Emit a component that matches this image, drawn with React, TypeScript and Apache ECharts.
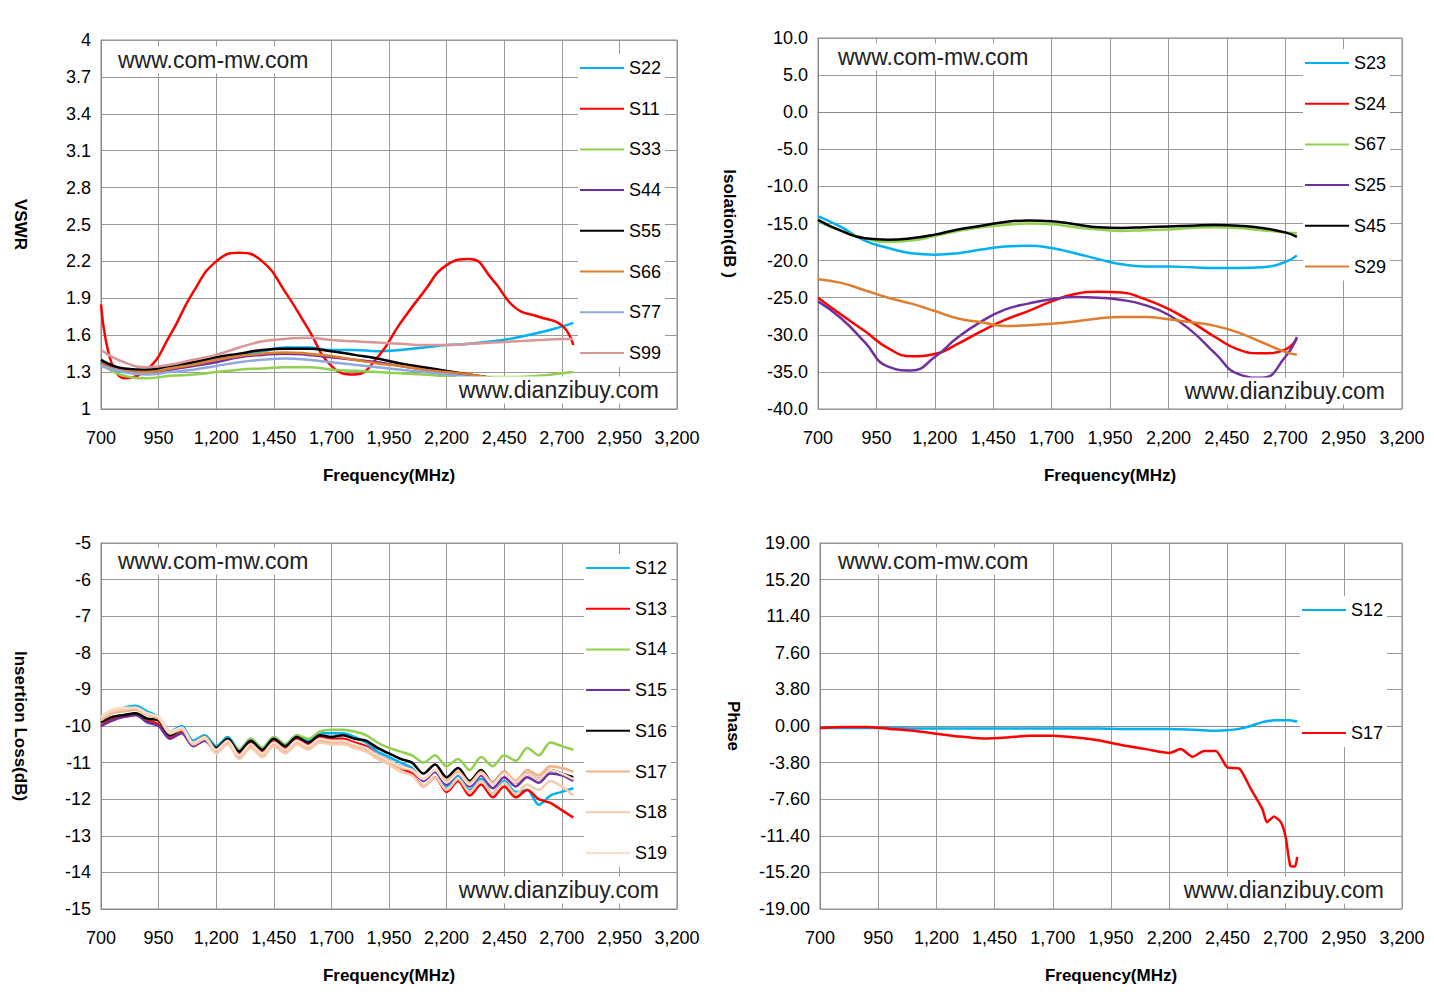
import React, { useEffect, useRef } from "react";
import * as echarts from "echarts";

// frequency points (MHz)
const freqCoarse = [700, 800, 900, 1000, 1100, 1200, 1300, 1400, 1500, 1600, 1700, 1800, 1900, 2000, 2100, 2200, 2300, 2400, 2500, 2600, 2700, 2750];
const freqFine = [700, 750, 800, 850, 900, 950, 1000, 1050, 1100, 1150, 1200, 1250, 1300, 1350, 1400, 1450, 1500, 1550, 1600, 1650, 1700, 1750, 1800, 1850, 1900, 1950, 2000, 2050, 2100, 2150, 2200, 2250, 2300, 2350, 2400, 2450, 2500, 2550, 2600, 2650, 2700, 2750];
const freqPhase = [700, 800, 900, 1000, 1100, 1200, 1300, 1400, 1500, 1600, 1700, 1800, 1900, 2000, 2100, 2200, 2250, 2300, 2350, 2400, 2450, 2500, 2550, 2600, 2620, 2650, 2680, 2700, 2720, 2740, 2750];

// VSWR
const vS22 = [1.38, 1.3, 1.3, 1.33, 1.37, 1.4, 1.44, 1.47, 1.5, 1.5, 1.48, 1.48, 1.47, 1.48, 1.5, 1.52, 1.53, 1.55, 1.58, 1.62, 1.67, 1.7];
const vS11 = [1.85, 1.25, 1.32, 1.6, 1.95, 2.2, 2.27, 2.2, 1.95, 1.65, 1.35, 1.28, 1.42, 1.7, 1.95, 2.17, 2.22, 2.05, 1.82, 1.75, 1.68, 1.52];
const vS33 = [1.37, 1.27, 1.25, 1.27, 1.28, 1.3, 1.32, 1.33, 1.34, 1.34, 1.32, 1.31, 1.3, 1.29, 1.28, 1.27, 1.27, 1.26, 1.26, 1.27, 1.29, 1.3];
const vS44 = [1.38, 1.32, 1.3, 1.32, 1.35, 1.38, 1.42, 1.44, 1.45, 1.44, 1.42, 1.4, 1.38, 1.35, 1.32, 1.3, 1.27, 1.24, 1.2, 1.17, 1.15, 1.14];
const vS55 = [1.4, 1.33, 1.32, 1.35, 1.38, 1.42, 1.45, 1.48, 1.49, 1.49, 1.47, 1.44, 1.41, 1.37, 1.34, 1.31, 1.28, 1.25, 1.21, 1.18, 1.15, 1.14];
const vS66 = [1.37, 1.31, 1.3, 1.33, 1.36, 1.4, 1.43, 1.45, 1.46, 1.45, 1.43, 1.4, 1.37, 1.35, 1.32, 1.3, 1.28, 1.25, 1.21, 1.18, 1.15, 1.13];
const vS77 = [1.35, 1.3, 1.28, 1.3, 1.32, 1.35, 1.38, 1.4, 1.41, 1.4, 1.38, 1.36, 1.34, 1.32, 1.3, 1.28, 1.26, 1.24, 1.2, 1.17, 1.15, 1.14];
const vS99 = [1.48, 1.38, 1.34, 1.36, 1.4, 1.44, 1.5, 1.55, 1.57, 1.58, 1.56, 1.55, 1.54, 1.53, 1.52, 1.52, 1.53, 1.54, 1.55, 1.56, 1.57, 1.57];

// Isolation
const iS23 = [-14, -15.5, -17.3, -18.3, -19, -19.2, -19, -18.5, -18.1, -18, -18.3, -19, -19.8, -20.5, -20.8, -20.8, -20.9, -21, -21, -20.9, -20.2, -19.3];
const iS24 = [-25, -27.3, -29.5, -31.8, -32.9, -32.6, -31.2, -29.5, -28, -26.8, -25.5, -24.5, -24.2, -24.3, -25.2, -26.5, -28.3, -30.3, -32, -32.5, -32, -30.5];
const iS67 = [-14.7, -16, -17, -17.5, -17.3, -16.7, -16, -15.5, -15.2, -15, -15.1, -15.5, -15.8, -16, -15.9, -15.8, -15.6, -15.5, -15.6, -15.9, -16.2, -16.3];
const iS25 = [-25.5, -27.8, -31, -34.3, -34.8, -33, -30.3, -28.2, -26.6, -25.8, -25.2, -24.9, -25, -25.3, -26, -27.3, -29.5, -32.5, -35.3, -35.8, -33, -30.3];
const iS45 = [-14.5, -16, -17, -17.2, -17, -16.5, -15.8, -15.3, -14.8, -14.6, -14.7, -15.1, -15.5, -15.6, -15.5, -15.4, -15.3, -15.2, -15.3, -15.6, -16.2, -16.8];
const iS29 = [-22.5, -23, -24, -25, -25.8, -26.8, -27.8, -28.3, -28.8, -28.7, -28.5, -28.2, -27.8, -27.6, -27.6, -27.9, -28.3, -28.8, -29.7, -31, -32.3, -32.7];

// Insertion loss
const lS12 = [-9.8, -9.6, -9.5, -9.45, -9.6, -9.75, -10.15, -10.0, -10.4, -10.25, -10.55, -10.3, -10.65, -10.35, -10.6, -10.3, -10.5, -10.25, -10.4, -10.2, -10.2, -10.2, -10.3, -10.45, -10.7, -10.85, -11.0, -11.15, -11.5, -11.25, -11.65, -11.35, -11.75, -11.45, -11.85, -11.5, -11.8, -11.75, -12.15, -11.9, -11.8, -11.7];
const lS13 = [-10.0, -9.8, -9.75, -9.7, -9.85, -9.95, -10.3, -10.15, -10.5, -10.35, -10.65, -10.4, -10.75, -10.45, -10.7, -10.4, -10.6, -10.35, -10.5, -10.3, -10.35, -10.35, -10.45, -10.55, -10.8, -10.95, -11.15, -11.3, -11.65, -11.4, -11.8, -11.5, -11.9, -11.6, -11.95, -11.65, -11.95, -11.75, -12.0, -12.1, -12.3, -12.5];
const lS14 = [-9.9, -9.75, -9.7, -9.65, -9.8, -9.85, -10.25, -10.1, -10.45, -10.3, -10.6, -10.35, -10.65, -10.35, -10.6, -10.3, -10.5, -10.25, -10.35, -10.15, -10.1, -10.1, -10.15, -10.25, -10.45, -10.6, -10.7, -10.8, -11.0, -10.8, -11.1, -10.9, -11.2, -10.85, -11.1, -10.8, -10.95, -10.6, -10.8, -10.45, -10.55, -10.65];
const lS15 = [-10.0, -9.85, -9.75, -9.7, -9.9, -10.0, -10.35, -10.2, -10.55, -10.4, -10.7, -10.45, -10.8, -10.5, -10.75, -10.45, -10.65, -10.4, -10.55, -10.35, -10.4, -10.4, -10.5, -10.6, -10.8, -10.95, -11.1, -11.2, -11.5, -11.25, -11.6, -11.3, -11.65, -11.35, -11.7, -11.4, -11.65, -11.4, -11.55, -11.3, -11.35, -11.5];
const lS16 = [-9.9, -9.75, -9.7, -9.65, -9.8, -9.85, -10.25, -10.1, -10.45, -10.3, -10.6, -10.35, -10.7, -10.4, -10.65, -10.35, -10.55, -10.3, -10.45, -10.25, -10.3, -10.25, -10.35, -10.4, -10.6, -10.75, -10.9, -11.0, -11.3, -11.05, -11.4, -11.15, -11.5, -11.2, -11.55, -11.25, -11.55, -11.3, -11.45, -11.2, -11.3, -11.4];
const lS17 = [-9.85, -9.65, -9.6, -9.55, -9.7, -9.8, -10.2, -10.1, -10.5, -10.35, -10.7, -10.45, -10.85, -10.55, -10.8, -10.5, -10.7, -10.45, -10.6, -10.4, -10.45, -10.45, -10.55, -10.65, -10.85, -11.0, -11.15, -11.2, -11.45, -11.2, -11.5, -11.25, -11.55, -11.25, -11.55, -11.25, -11.5, -11.2, -11.35, -11.1, -11.15, -11.25];
const lS18 = [-9.8, -9.6, -9.55, -9.5, -9.7, -9.75, -10.2, -10.05, -10.5, -10.35, -10.75, -10.5, -10.9, -10.6, -10.85, -10.55, -10.75, -10.5, -10.65, -10.45, -10.5, -10.5, -10.6, -10.7, -10.9, -11.05, -11.25, -11.35, -11.65, -11.4, -11.75, -11.45, -11.8, -11.5, -11.85, -11.55, -11.85, -11.6, -11.75, -11.5, -11.65, -11.9];
const lS19 = [-9.75, -9.55, -9.5, -9.5, -9.65, -9.75, -10.15, -10.05, -10.45, -10.3, -10.65, -10.4, -10.8, -10.5, -10.75, -10.45, -10.65, -10.4, -10.55, -10.35, -10.4, -10.4, -10.5, -10.6, -10.8, -10.95, -11.1, -11.2, -11.45, -11.2, -11.55, -11.3, -11.6, -11.3, -11.6, -11.3, -11.55, -11.3, -11.45, -11.2, -11.3, -11.45];

// Phase
const pS12 = [-0.2, -0.2, -0.2, -0.2, -0.25, -0.25, -0.25, -0.25, -0.25, -0.25, -0.25, -0.25, -0.25, -0.3, -0.3, -0.3, -0.35, -0.4, -0.45, -0.5, -0.45, -0.3, 0.0, 0.4, 0.5, 0.6, 0.6, 0.6, 0.6, 0.5, 0.5];
const pS17 = [-0.2, -0.1, -0.1, -0.3, -0.5, -0.8, -1.1, -1.3, -1.2, -1.0, -1.0, -1.2, -1.5, -2.0, -2.4, -2.8, -2.4, -3.2, -2.6, -2.6, -4.3, -4.4, -6.5, -8.6, -10.0, -9.4, -10.0, -11.5, -14.5, -14.6, -13.6];

const FONT = "'Liberation Sans', Arial, sans-serif";

const pair = (xs: number[], ys: number[]) => xs.map((x, i) => [x, ys[i]]);

const App = () => {
    const chartRef = useRef<HTMLDivElement>(null);

    useEffect(() => {
        document.body.style.margin = "0";
        const chart = echarts.init(chartRef.current, null, { renderer: "svg" });

        const grids = [
            { left: 101, top: 40, width: 576, height: 369 },
            { left: 818, top: 38, width: 584, height: 371 },
            { left: 101, top: 543, width: 576, height: 366 },
            { left: 820, top: 543, width: 582, height: 366 },
        ];

        const xAxis = grids.map((_, i) => ({
            gridIndex: i,
            type: "value",
            min: 700,
            max: 3200,
            interval: 250,
            name: "Frequency(MHz)",
            nameLocation: "middle",
            nameGap: 58,
            nameTextStyle: { color: "#000", fontWeight: "bold", fontSize: 17, fontFamily: FONT },
            axisLine: { lineStyle: { color: "#888" } },
            axisTick: { show: false },
            axisLabel: {
                color: "#000", fontSize: 18, fontFamily: FONT, margin: 20,
                formatter: (v: number) => v.toLocaleString("en-US"),
            },
            splitLine: { lineStyle: { color: "#999" } },
        }));

        const yDefs = [
            { min: 1, max: 4, interval: 0.3, name: "VSWR", dec: 1, trim: true, gap: 72 },
            { min: -40, max: 10, interval: 5, name: "Isolation(dB )", dec: 1, trim: false, gap: 80 },
            { min: -15, max: -5, interval: 1, name: "Insertion Loss(dB)", dec: 0, trim: false, gap: 72 },
            { min: -19, max: 19, interval: 3.8, name: "Phase", dec: 2, trim: false, gap: 78 },
        ];
        const yAxis = yDefs.map((d, i) => ({
            gridIndex: i,
            type: "value",
            min: d.min,
            max: d.max,
            interval: d.interval,
            name: d.name,
            nameLocation: "middle",
            nameRotate: -90,
            nameGap: d.gap,
            nameTextStyle: { color: "#000", fontWeight: "bold", fontSize: 17, fontFamily: FONT },
            axisLine: { show: true, lineStyle: { color: "#888" } },
            axisTick: { show: false },
            axisLabel: {
                color: "#000", fontSize: 18, fontFamily: FONT, margin: 10,
                formatter: (v: number) => (d.trim ? String(+v.toFixed(d.dec)) : v.toFixed(d.dec)),
            },
            splitLine: { lineStyle: { color: "#999" } },
        }));

        const mk = (name: string, color: string, idx: number, xs: number[], ys: number[], smooth: any) => ({
            name, type: "line", xAxisIndex: idx, yAxisIndex: idx, data: pair(xs, ys),
            smooth, symbol: "none", lineStyle: { color, width: 2.5 }, itemStyle: { color },
        });

        const p1 = [
            ["S22", "#00B0F0", vS22], ["S11", "#FF0000", vS11], ["S33", "#92D050", vS33], ["S44", "#7030A0", vS44],
            ["S55", "#000000", vS55], ["S66", "#DE7E2E", vS66], ["S77", "#8EA9DB", vS77], ["S99", "#D99694", vS99],
        ] as [string, string, number[]][];
        const p2 = [
            ["S23", "#00B0F0", iS23], ["S24", "#FF0000", iS24], ["S67", "#92D050", iS67],
            ["S25", "#7030A0", iS25], ["S45", "#000000", iS45], ["S29", "#DE7E2E", iS29],
        ] as [string, string, number[]][];
        const p3 = [
            ["S12", "#00B0F0", lS12], ["S13", "#FF0000", lS13], ["S14", "#92D050", lS14], ["S15", "#7030A0", lS15],
            ["S16", "#000000", lS16], ["S17", "#F4B183", lS17], ["S18", "#F8CBAD", lS18], ["S19", "#FBDCC8", lS19],
        ] as [string, string, number[]][];
        const p4 = [["S12", "#00B0F0", pS12], ["S17", "#FF0000", pS17]] as [string, string, number[]][];

        const series = [
            ...p1.map(([n, c, d]) => mk(n, c, 0, freqCoarse, d, true)),
            ...p2.map(([n, c, d]) => mk(n, c, 1, freqCoarse, d, true)),
            ...p3.map(([n, c, d]) => mk(n, c, 2, freqFine, d, 0.3)),
            ...p4.map(([n, c, d]) => mk(n, c, 3, freqPhase, d, 0.2)),
        ];

        const legend = (items: [string, string, number[]][], left: number, top: number, gap: number) => ({
            orient: "vertical", left, top, itemGap: gap, icon: "rect", itemWidth: 44, itemHeight: 2,
            backgroundColor: "#fff", padding: [4, 4, 4, 2], selectedMode: false,
            textStyle: { color: "#000", fontSize: 18, fontFamily: FONT, lineHeight: 20 },
            data: items.map(([n, c]) => ({ name: n, itemStyle: { color: c } })),
        });

        const wm = (text: string, x: number, y: number, align: string) => ({
            type: "text", x, y, z: 100,
            style: {
                text, font: `23px ${FONT}`, fill: "#222", align, verticalAlign: "middle",
                backgroundColor: "#fff", padding: [2, 3],
            },
        });

        chart.setOption({
            animation: false,
            backgroundColor: "#fff",
            grid: grids.map((g) => ({ ...g, show: true, borderColor: "#888", borderWidth: 1, backgroundColor: "transparent" })),
            xAxis,
            yAxis,
            legend: [
                legend(p1, 578, 54, 20.7),
                legend(p2, 1303, 49, 20.7),
                legend(p3, 584, 554, 20.7),
                legend(p4, 1300, 596, 103),
            ],
            series,
            graphic: [
                wm("www.com-mw.com", 115, 60, "left"),
                wm("www.com-mw.com", 835, 57, "left"),
                wm("www.com-mw.com", 115, 561, "left"),
                wm("www.com-mw.com", 835, 561, "left"),
                wm("www.dianzibuy.com", 662, 390, "right"),
                wm("www.dianzibuy.com", 1388, 391, "right"),
                wm("www.dianzibuy.com", 662, 890, "right"),
                wm("www.dianzibuy.com", 1387, 890, "right"),
            ],
        });

        return () => {
            chart.dispose();
        };
    }, []);

    return <div ref={chartRef} style={{ width: 1434, height: 1005 }} />;
};

export default App;
